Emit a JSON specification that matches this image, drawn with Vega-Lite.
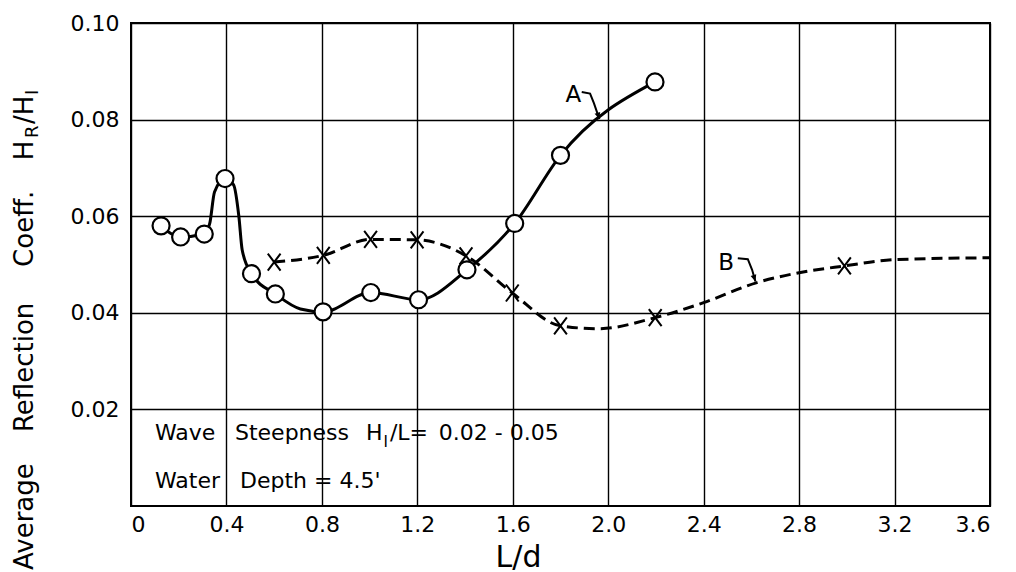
{
  "$schema": "https://vega.github.io/schema/vega-lite/v6.json",
  "width": 859,
  "height": 483,
  "autosize": {"type": "none"},
  "padding": {"left": 131, "top": 23, "right": 26, "bottom": 66},
  "background": "white",
  "config": {
    "view": {"stroke": "black", "strokeWidth": 2},
    "font": "DejaVu Sans",
    "text": {"font": "DejaVu Sans", "color": "black"}
  },
  "datasets": {
    "curves": [
      {"curve": "A", "kind": "measured", "LD": 0.126, "coef": 0.0580},
      {"curve": "A", "kind": "measured", "LD": 0.208, "coef": 0.0557},
      {"curve": "A", "kind": "measured", "LD": 0.307, "coef": 0.0563},
      {"curve": "A", "kind": "curve", "LD": 0.33, "coef": 0.0585},
      {"curve": "A", "kind": "curve", "LD": 0.35, "coef": 0.0650},
      {"curve": "A", "kind": "measured", "LD": 0.394, "coef": 0.0678},
      {"curve": "A", "kind": "curve", "LD": 0.43, "coef": 0.0665},
      {"curve": "A", "kind": "curve", "LD": 0.452, "coef": 0.0600},
      {"curve": "A", "kind": "curve", "LD": 0.466, "coef": 0.0530},
      {"curve": "A", "kind": "measured", "LD": 0.505, "coef": 0.0481},
      {"curve": "A", "kind": "measured", "LD": 0.605, "coef": 0.0439},
      {"curve": "A", "kind": "curve", "LD": 0.71, "coef": 0.0408},
      {"curve": "A", "kind": "measured", "LD": 0.805, "coef": 0.0402},
      {"curve": "A", "kind": "measured", "LD": 1.005, "coef": 0.0442},
      {"curve": "A", "kind": "measured", "LD": 1.205, "coef": 0.0427},
      {"curve": "A", "kind": "measured", "LD": 1.408, "coef": 0.0489},
      {"curve": "A", "kind": "measured", "LD": 1.608, "coef": 0.0585},
      {"curve": "A", "kind": "measured", "LD": 1.800, "coef": 0.0726},
      {"curve": "A", "kind": "measured", "LD": 2.196, "coef": 0.0878},
      {"curve": "B", "kind": "measured", "LD": 0.600, "coef": 0.0505},
      {"curve": "B", "kind": "measured", "LD": 0.806, "coef": 0.0519},
      {"curve": "B", "kind": "measured", "LD": 1.004, "coef": 0.0552},
      {"curve": "B", "kind": "measured", "LD": 1.199, "coef": 0.0551},
      {"curve": "B", "kind": "measured", "LD": 1.404, "coef": 0.0518},
      {"curve": "B", "kind": "measured", "LD": 1.598, "coef": 0.0441},
      {"curve": "B", "kind": "measured", "LD": 1.800, "coef": 0.0373},
      {"curve": "B", "kind": "curve", "LD": 1.96, "coef": 0.0367},
      {"curve": "B", "kind": "measured", "LD": 2.197, "coef": 0.0390},
      {"curve": "B", "kind": "curve", "LD": 2.4, "coef": 0.0421},
      {"curve": "B", "kind": "curve", "LD": 2.62, "coef": 0.0462},
      {"curve": "B", "kind": "curve", "LD": 2.8, "coef": 0.0483},
      {"curve": "B", "kind": "measured", "LD": 2.99, "coef": 0.0497},
      {"curve": "B", "kind": "curve", "LD": 3.2, "coef": 0.0510},
      {"curve": "B", "kind": "curve", "LD": 3.6, "coef": 0.0514}
    ],
    "arrows": [
      {"id": "A", "o": 1, "LD": 1.889, "coef": 0.0857},
      {"id": "A", "o": 2, "LD": 1.924, "coef": 0.0854},
      {"id": "A", "o": 3, "LD": 1.940, "coef": 0.0834},
      {"id": "A", "o": 4, "LD": 1.963, "coef": 0.0801},
      {"id": "B", "o": 1, "LD": 2.543, "coef": 0.0513},
      {"id": "B", "o": 2, "LD": 2.585, "coef": 0.0511},
      {"id": "B", "o": 3, "LD": 2.603, "coef": 0.0489},
      {"id": "B", "o": 4, "LD": 2.617, "coef": 0.0465}
    ],
    "labels": [
      {"t": "A", "LD": 1.854, "coef": 0.0837},
      {"t": "B", "LD": 2.494, "coef": 0.0489}
    ],
    "notes": [
      {"t": "Wave", "role": "main", "LD": 0.1006, "coef": 0.01366},
      {"t": "Steepness", "role": "main", "LD": 0.4358, "coef": 0.01366},
      {"t": "H", "role": "main", "LD": 0.985, "coef": 0.01366},
      {"t": "I", "role": "sub", "LD": 1.058, "coef": 0.0122},
      {"t": "/L=", "role": "main", "LD": 1.085, "coef": 0.01366},
      {"t": "0.02 - 0.05", "role": "main", "LD": 1.290, "coef": 0.01366},
      {"t": "Water", "role": "main", "LD": 0.1006, "coef": 0.00373},
      {"t": "Depth = 4.5'", "role": "main", "LD": 0.4568, "coef": 0.00373}
    ],
    "ytitle": [
      {"t": "Average", "role": "main", "LD": -0.411, "coef": -0.01325},
      {"t": "Reflection", "role": "main", "LD": -0.411, "coef": 0.0153},
      {"t": "Coeff.", "role": "main", "LD": -0.411, "coef": 0.0495},
      {"t": "H", "role": "main", "LD": -0.411, "coef": 0.0716},
      {"t": "R", "role": "sub", "LD": -0.390, "coef": 0.0762},
      {"t": "/H", "role": "main", "LD": -0.411, "coef": 0.0791},
      {"t": "I", "role": "sub", "LD": -0.390, "coef": 0.0851}
    ]
  },
  "encoding": {
    "x": {
      "field": "LD",
      "type": "quantitative",
      "scale": {"domain": [0, 3.6], "nice": false, "zero": false},
      "axis": {
        "values": [0, 0.4, 0.8, 1.2, 1.6, 2.0, 2.4, 2.8, 3.2, 3.6],
        "labelExpr": "datum.value == 0 ? '0' : format(datum.value, '.1f')",
        "grid": true,
        "gridColor": "black",
        "gridWidth": 1.4,
        "gridOpacity": 1,
        "ticks": false,
        "domain": false,
        "labelFontSize": 22,
        "labelColor": "black",
        "labelPadding": 8,
        "labelFont": "DejaVu Sans",
        "title": "L/d",
        "titleFont": "DejaVu Sans",
        "titleFontSize": 30,
        "titleFontWeight": "normal",
        "titleColor": "black",
        "titleX": 387,
        "titleY": 60,
        "titleBaseline": "alphabetic",
        "titleAlign": "center"
      }
    },
    "y": {
      "field": "coef",
      "type": "quantitative",
      "scale": {"domain": [0, 0.1], "nice": false},
      "axis": {
        "values": [0.02, 0.04, 0.06, 0.08, 0.1],
        "format": ".2f",
        "grid": true,
        "gridColor": "black",
        "gridWidth": 1.4,
        "gridOpacity": 1,
        "ticks": false,
        "domain": false,
        "labelFontSize": 22,
        "labelColor": "black",
        "labelPadding": 12,
        "labelFont": "DejaVu Sans",
        "title": null
      }
    }
  },
  "layer": [
    {
      "data": {"name": "curves"},
      "transform": [{"filter": "datum.curve == 'B'"}],
      "mark": {"type": "line", "interpolate": "monotone", "color": "black", "strokeWidth": 3, "strokeDash": [11, 6]},
      "encoding": {}
    },
    {
      "data": {"name": "curves"},
      "transform": [{"filter": "datum.curve == 'A'"}],
      "mark": {"type": "line", "interpolate": "monotone", "color": "black", "strokeWidth": 3},
      "encoding": {}
    },
    {
      "data": {"name": "curves"},
      "transform": [{"filter": "datum.curve == 'B' && datum.kind == 'measured'"}],
      "mark": {"type": "point", "shape": "M-0.75,-1L0.75,1M-0.75,1L0.75,-1", "size": 290, "filled": false, "stroke": "black", "strokeWidth": 2, "opacity": 1},
      "encoding": {}
    },
    {
      "data": {"name": "curves"},
      "transform": [{"filter": "datum.curve == 'A' && datum.kind == 'measured'"}],
      "mark": {"type": "point", "shape": "circle", "size": 290, "filled": true, "fill": "white", "stroke": "black", "strokeWidth": 2.2, "opacity": 1, "fillOpacity": 1, "strokeOpacity": 1},
      "encoding": {}
    },
    {
      "data": {"name": "arrows"},
      "mark": {"type": "line", "color": "black", "strokeWidth": 2},
      "encoding": {"detail": {"field": "id"}, "order": {"field": "o"}}
    },
    {
      "data": {"name": "arrows"},
      "transform": [{"filter": "datum.o == 4"}],
      "mark": {"type": "point", "shape": "M-0.45,-1L0.45,-1L0,0Z", "size": 170, "filled": true, "color": "black", "opacity": 1, "angle": 342},
      "encoding": {}
    },
    {
      "data": {"name": "labels"},
      "mark": {"type": "text", "fontSize": 23, "align": "center", "baseline": "alphabetic"},
      "encoding": {"text": {"field": "t"}}
    },
    {
      "data": {"name": "notes"},
      "transform": [{"filter": "datum.role == 'main'"}],
      "mark": {"type": "text", "fontSize": 22, "align": "left", "baseline": "alphabetic"},
      "encoding": {"text": {"field": "t"}}
    },
    {
      "data": {"name": "notes"},
      "transform": [{"filter": "datum.role == 'sub'"}],
      "mark": {"type": "text", "fontSize": 15, "align": "left", "baseline": "alphabetic"},
      "encoding": {"text": {"field": "t"}}
    },
    {
      "data": {"name": "ytitle"},
      "transform": [{"filter": "datum.role == 'main'"}],
      "mark": {"type": "text", "fontSize": 26, "align": "left", "baseline": "alphabetic", "angle": 270},
      "encoding": {"text": {"field": "t"}}
    },
    {
      "data": {"name": "ytitle"},
      "transform": [{"filter": "datum.role == 'sub'"}],
      "mark": {"type": "text", "fontSize": 18, "align": "left", "baseline": "alphabetic", "angle": 270},
      "encoding": {"text": {"field": "t"}}
    }
  ]
}
